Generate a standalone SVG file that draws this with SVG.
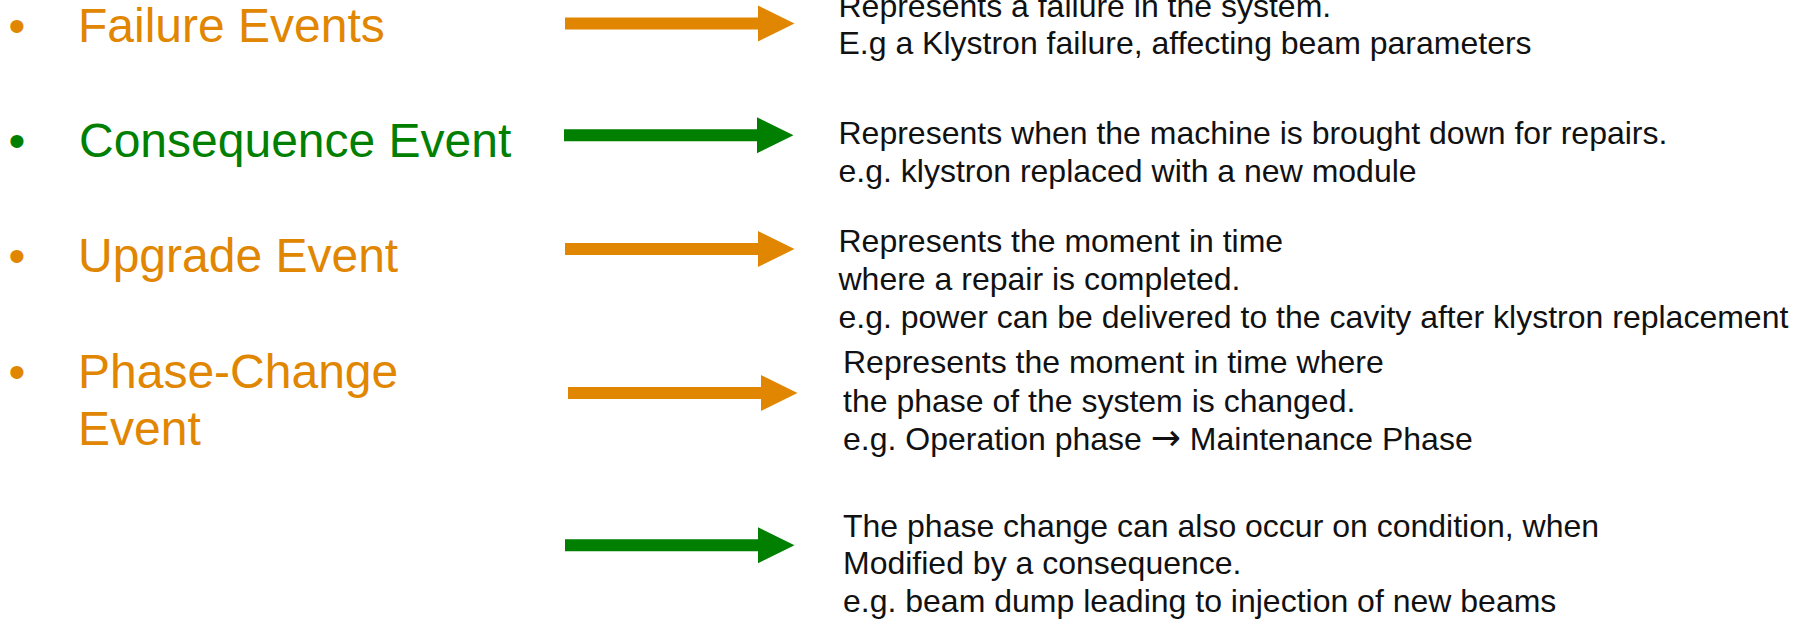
<svg xmlns="http://www.w3.org/2000/svg" width="1800" height="620" viewBox="0 0 1800 620">
  <style>
    .label { font-family: "Liberation Sans", Arial, sans-serif; font-size: 48px; }
    .desc { font-family: "Liberation Sans", Arial, sans-serif; font-size: 32px; fill: #111111; }
    .sym { font-family: "DejaVu Sans", sans-serif; font-size: 36px; }
    .orange { fill: #E18600; }
    .green { fill: #007F00; }
  </style>
  <defs>
    <!-- block arrow, origin at the middle of the tail -->
    <path id="blockArrow" d="M0,-6 H193 V-18 L229.5,0 L193,18 V6 H0 Z"/>
  </defs>
  <rect width="1800" height="620" fill="#ffffff"/>

  <g id="failure-events">
    <text class="label orange" x="8.6" y="42">•</text>
    <text class="label orange" x="78" y="42">Failure Events</text>
  </g>
  <g id="consequence-event">
    <text class="label green" x="8.6" y="157">•</text>
    <text class="label green" x="79" y="157">Consequence Event</text>
  </g>
  <g id="upgrade-event">
    <text class="label orange" x="8.6" y="272">•</text>
    <text class="label orange" x="78" y="272">Upgrade Event</text>
  </g>
  <g id="phase-change-event">
    <text class="label orange" x="8.6" y="388">•</text>
    <text class="label orange" x="78" y="388">Phase-Change</text>
    <text class="label orange" x="78" y="445">Event</text>
  </g>

  <g id="connectors">
    <use href="#blockArrow" class="orange" transform="translate(565,23.5)"/>
    <use href="#blockArrow" class="green" transform="translate(564,135.3)"/>
    <use href="#blockArrow" class="orange" transform="translate(565,249)"/>
    <use href="#blockArrow" class="orange" transform="translate(568,393)"/>
    <use href="#blockArrow" class="green" transform="translate(565,545.3)"/>
  </g>

  <g id="failure-description">
    <text class="desc" x="838.5" y="16.5">Represents a failure in the system.</text>
    <text class="desc" x="838.5" y="54">E.g a Klystron failure, affecting beam parameters</text>
  </g>
  <g id="consequence-description">
    <text class="desc" x="838.5" y="144">Represents when the machine is brought down for repairs.</text>
    <text class="desc" x="838.5" y="181.5">e.g. klystron replaced with a new module</text>
  </g>
  <g id="upgrade-description">
    <text class="desc" x="838.5" y="252">Represents the moment in time</text>
    <text class="desc" x="838.5" y="290">where a repair is completed.</text>
    <text class="desc" x="838.5" y="328">e.g. power can be delivered to the cavity after klystron replacement</text>
  </g>
  <g id="phase-change-description">
    <text class="desc" x="843" y="373">Represents the moment in time where</text>
    <text class="desc" x="843" y="411.5">the phase of the system is changed.</text>
    <text class="desc" x="843" y="450">e.g. Operation phase <tspan class="sym">→</tspan> Maintenance Phase</text>
  </g>
  <g id="conditional-phase-change-description">
    <text class="desc" x="843" y="537">The phase change can also occur on condition, when</text>
    <text class="desc" x="843" y="574">Modified by a consequence.</text>
    <text class="desc" x="843" y="611.5">e.g. beam dump leading to injection of new beams</text>
  </g>
</svg>
